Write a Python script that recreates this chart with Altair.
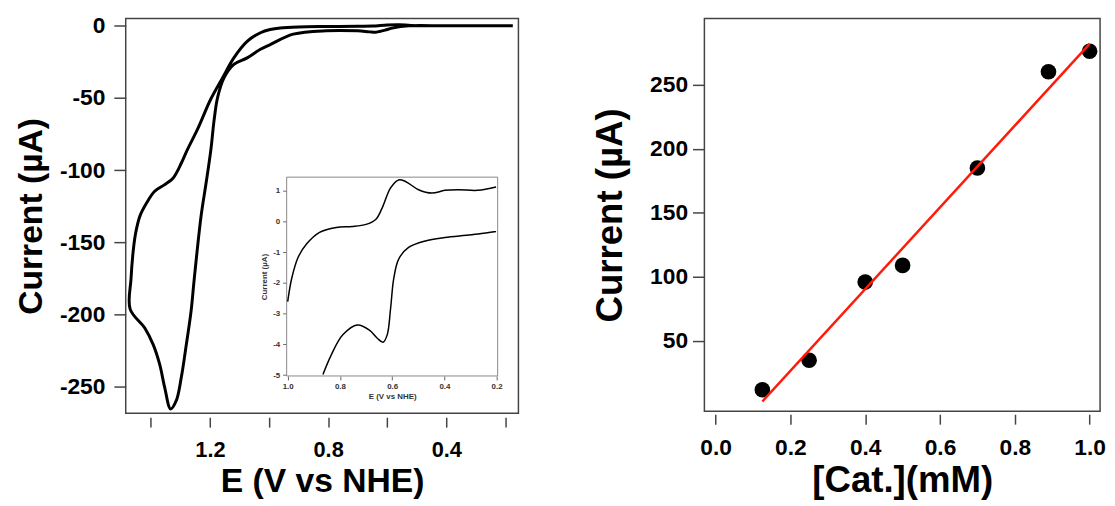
import altair as alt
import pandas as pd

# ---------------- main cyclic voltammogram (left panel) ----------------
# path order: right end -> outer branch -> vertex -> inner branch -> right end
cv_E = [0.175, 0.30, 0.45, 0.52, 0.56, 0.60, 0.65, 0.70, 0.806, 0.90, 0.962, 0.996,
        1.029, 1.074, 1.119, 1.157, 1.197, 1.241, 1.277, 1.297, 1.325, 1.353, 1.387,
        1.414, 1.437, 1.451, 1.459, 1.467, 1.470,
        1.42, 1.392, 1.37, 1.353, 1.333, 1.314, 1.297, 1.28, 1.264, 1.253, 1.23, 1.213,
        1.197, 1.186, 1.174, 1.152, 1.119, 1.074, 1.029, 0.996, 0.918, 0.806, 0.70,
        0.66, 0.638, 0.60, 0.583, 0.527, 0.40, 0.175]
cv_I = [0.0, 0.0, 0.0, 0.3, 0.8, 0.6, -0.2, -0.3, -0.5, -0.8, -1.5, -2.6,
        -4.8, -10.8, -22.2, -35.9, -50.7, -71.2, -86.1, -95.2, -105.5, -110.0, -114.6,
        -122.6, -131.8, -143.1, -154.6, -175.1, -196.2,
        -209.4, -220.8, -234.5, -250.5, -265.3, -259.6, -243.6, -220.8, -197.9, -175.1,
        -131.8, -108.9, -86.1, -65.5, -49.6, -35.9, -26.7, -22.2, -16.2, -13.0, -5.8,
        -3.4, -3.5, -4.2, -4.4, -2.6, -1.6, 0.0, 0.0, 0.0]

main_x_ticks = [1.4, 1.2, 1.0, 0.8, 0.6, 0.4, 0.2]
main_y_ticks = [0, -50, -100, -150, -200, -250]

# ---------------- inset voltammogram ----------------
ins_up_E = [1.0, 0.985, 0.96, 0.928, 0.878, 0.814, 0.752, 0.70, 0.663, 0.638, 0.606,
            0.575, 0.549, 0.499, 0.448, 0.398, 0.347, 0.272, 0.202]
ins_up_I = [-2.61, -1.86, -1.16, -0.73, -0.35, -0.19, -0.16, -0.09, 0.07, 0.45, 1.10,
            1.36, 1.31, 1.04, 0.93, 1.02, 1.04, 1.02, 1.13]
ins_lo_E = [0.865, 0.833, 0.789, 0.733, 0.688, 0.657, 0.635, 0.619, 0.606, 0.594,
            0.575, 0.537, 0.473, 0.398, 0.297, 0.202]
ins_lo_I = [-4.98, -4.34, -3.69, -3.37, -3.53, -3.80, -3.93, -3.69, -2.83, -1.86,
            -1.22, -0.84, -0.63, -0.52, -0.43, -0.32]
ins_x_ticks = [1.0, 0.8, 0.6, 0.4, 0.2]
ins_y_ticks = [1, 0, -1, -2, -3, -4, -5]
ins_x_dom = [0.196, 1.004]
ins_y_dom = [-5.03, 1.45]

# ---------------- concentration dependence (right panel) ----------------
cat_mM = [0.125, 0.25, 0.40, 0.50, 0.70, 0.89, 1.00]
cur_uA = [12, 35, 96, 109, 185, 260, 276]
cat_x_ticks = [0.0, 0.2, 0.4, 0.6, 0.8, 1.0]
cat_y_ticks = [50, 100, 150, 200, 250]

FONT = "Liberation Sans"

cv = pd.DataFrame({"E": cv_E, "I": cv_I, "idx": list(range(len(cv_E)))})
ins = pd.concat([
    pd.DataFrame({"E": ins_up_E, "I": ins_up_I, "br": "up", "k": range(len(ins_up_E))}),
    pd.DataFrame({"E": ins_lo_E, "I": ins_lo_I, "br": "lo", "k": range(len(ins_lo_E))}),
])
box = pd.DataFrame({"E": [ins_x_dom[0]], "E2": [ins_x_dom[1]],
                    "I": [ins_y_dom[0]], "I2": [ins_y_dom[1]]})
cat = pd.DataFrame({"c": cat_mM, "i": cur_uA})

LW, LH = 397, 399
RW, RH = 400, 397

HYPHEN = "replace(format(datum.value, 'd'), '\u2212', '-')"

main = alt.Chart(cv).mark_line(color="black", strokeWidth=3, interpolate="catmull-rom").encode(
    x=alt.X("E:Q", scale=alt.Scale(domain=[0.156, 1.485], reverse=True, nice=False, zero=False),
            axis=alt.Axis(values=main_x_ticks, orient="bottom",
                          labelExpr="indexof(['1.2','0.8','0.4'], format(datum.value,'.1f')) >= 0 ? format(datum.value,'.1f') : ''",
                          tickSize=10, offset=4, labelPadding=13, labelFontSize=22,
                          title="E (V vs NHE)", titleFontSize=34, titlePadding=4)),
    y=alt.Y("I:Q", scale=alt.Scale(domain=[-268.3, 5.0], nice=False, zero=False),
            axis=alt.Axis(values=main_y_ticks, orient="left", tickSize=12, labelPadding=9,
                          labelExpr=HYPHEN,
                          labelFontSize=23, title="Current (µA)", titleFontSize=34,
                          titlePadding=11)),
    order="idx:Q",
)

# inset placement in pixels relative to the left plot area
IX0, IX1 = 162.7, 376.0
IY_TOP, IY_BOT = 160.3, 361.3

ix_scale = alt.Scale(domain=ins_x_dom, range=[IX1, IX0], nice=False, zero=False)
iy_scale = alt.Scale(domain=ins_y_dom, range=[IY_BOT, IY_TOP], nice=False, zero=False)

inset_axis_common = dict(labelFontSize=8, titleFontSize=8, labelColor="#333",
                         titleColor="#333", tickColor="#666", tickWidth=1, tickSize=4)
ix_axis = alt.Axis(values=ins_x_ticks, format=".1f", orient="bottom",
                   offset=-(LH - IY_BOT), labelPadding=3, title="E (V vs NHE)",
                   titlePadding=2, **inset_axis_common)
iy_axis = alt.Axis(values=ins_y_ticks, orient="left", offset=-IX0, labelExpr=HYPHEN,
                   labelPadding=3, title="Current (µA)", titlePadding=4,
                   **inset_axis_common)

inset_box = alt.Chart(box).mark_rect(fill="white", stroke="#888", strokeWidth=1).encode(
    x=alt.X("E:Q", scale=ix_scale, axis=ix_axis),
    x2="E2:Q",
    y=alt.Y("I:Q", scale=iy_scale, axis=iy_axis),
    y2="I2:Q",
)
inset_lines = alt.Chart(ins).mark_line(color="black", strokeWidth=1.5, interpolate="catmull-rom").encode(
    x=alt.X("E:Q", scale=ix_scale, axis=ix_axis),
    y=alt.Y("I:Q", scale=iy_scale, axis=iy_axis),
    detail="br:N",
    order="k:Q",
)
inset = alt.layer(inset_box, inset_lines)

left = alt.layer(main, inset).resolve_scale(x="independent", y="independent").properties(
    width=LW, height=LH)

cx = alt.X("c:Q", scale=alt.Scale(domain=[-0.03, 1.028], nice=False, zero=False),
           axis=alt.Axis(values=cat_x_ticks, format=".1f", orient="bottom", tickSize=10,
                         offset=3, labelPadding=13, labelFontSize=23,
                         title="[Cat.](mM)", titleFontSize=37, titlePadding=3))
cy = alt.Y("i:Q", scale=alt.Scale(domain=[-4.8, 301.5], nice=False, zero=False),
           axis=alt.Axis(values=cat_y_ticks, orient="left", tickSize=12, labelPadding=5,
                         labelFontSize=23, title="Current (µA)", titleFontSize=37,
                         titlePadding=20))

pts = alt.Chart(cat).mark_circle(size=250, color="black", opacity=1).encode(x=cx, y=cy)
fit = alt.Chart(cat).transform_regression("c", "i").mark_line(color="#ff1a0a", strokeWidth=2.5).encode(
    x=cx, y=cy)
right = alt.layer(pts, fit).properties(width=RW, height=RH)

chart = alt.hconcat(left, right, spacing=71).properties(
    padding={"left": 6, "top": 3, "right": 0, "bottom": 0}
).configure_view(stroke="#444", strokeWidth=1.5).configure_axis(
    labelFont=FONT, titleFont=FONT, labelFontWeight="bold", titleFontWeight="bold",
    labelColor="black", titleColor="black", tickColor="#444", tickWidth=1.5,
    grid=False, domain=False,
)

chart.save("out.html", embed_options={"renderer": "svg", "actions": False})
